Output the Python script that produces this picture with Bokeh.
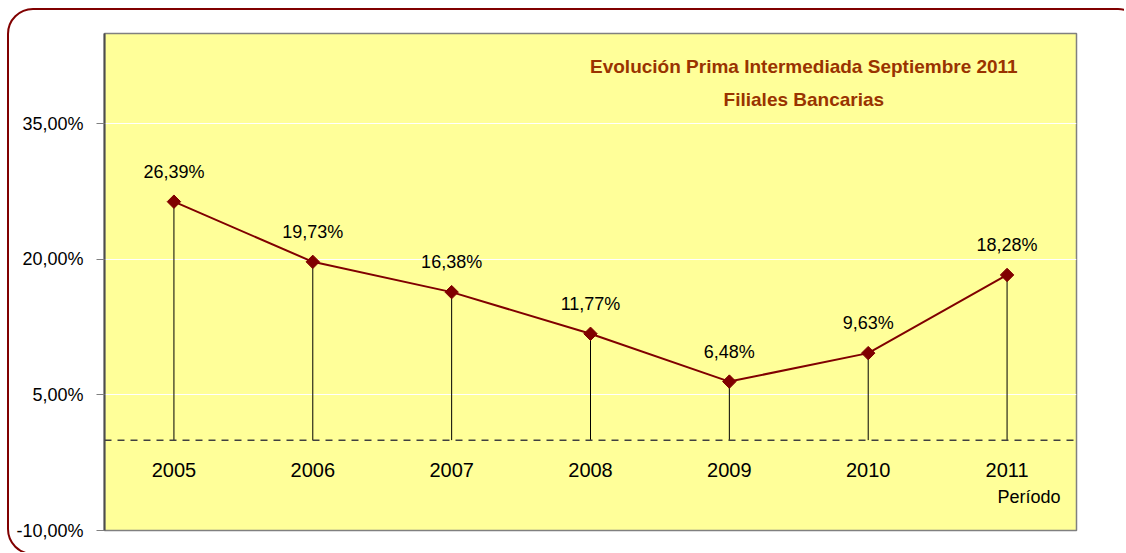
from bokeh.plotting import figure
from bokeh.models import FactorRange, Range1d, FixedTicker, Span, ColumnDataSource, InlineStyleSheet
from bokeh.embed import file_html
from bokeh.resources import INLINE
from bokeh.core.properties import value

years = ["2005", "2006", "2007", "2008", "2009", "2010", "2011"]
prima = [26.39, 19.73, 16.38, 11.77, 6.48, 9.63, 18.28]
y_ticks = [-10, 5, 20, 35]
y_tick_labels = ["-10,00%", "5,00%", "20,00%", "35,00%"]
title_lines = ["Evolución Prima Intermediada Septiembre 2011", "Filiales Bancarias"]
x_title = "Período"

value_labels = [f"{v:.2f}".replace(".", ",") + "%" for v in prima]

FONT = "Liberation Sans"
DARKRED = "#800000"
TITLE_COLOR = "#993300"

src = ColumnDataSource(dict(x=years, y=prima, zero=[0] * len(years), lab=value_labels))

p = figure(
    x_range=FactorRange(factors=years, range_padding=0),
    y_range=Range1d(-10, 45),
    frame_width=972, frame_height=497,
    min_border_left=104, min_border_right=48, min_border_top=33, min_border_bottom=22,
    output_backend="svg", toolbar_location=None,
    background_fill_color="#FFFF99", border_fill_color="white",
    outline_line_color="#808080", outline_line_width=1.5,
)

# outer rounded border (drawn over the canvas by the page's CSS)
p.stylesheets = [InlineStyleSheet(css="""
:host { position: relative; overflow: hidden; }
:host::after {
  content: ""; position: absolute; left: 7px; top: 8px;
  right: -20px; bottom: -3px; width: auto; height: auto;
  max-width: none; max-height: none; box-sizing: border-box;
  border: 2.5px solid #800000; border-radius: 26px;
  pointer-events: none; z-index: 10;
}
""")]

# axes
p.xaxis.visible = False
p.xgrid.visible = False
yax = p.yaxis[0]
yax.ticker = FixedTicker(ticks=y_ticks)
yax.major_label_overrides = {t: l for t, l in zip(y_ticks, y_tick_labels)}
yax.major_label_text_font = FONT
yax.major_label_text_font_size = "18px"
yax.major_label_text_color = "black"
yax.major_label_standoff = 13
yax.axis_line_color = "#4d4d4d"
yax.axis_line_width = 2
yax.major_tick_line_color = "#808080"
yax.major_tick_out = 8
yax.major_tick_in = 0
yax.minor_tick_line_color = None
p.ygrid.grid_line_color = "white"
p.ygrid.grid_line_width = 1

# zero dashed line
p.add_layout(Span(location=0, dimension="width", line_color="#404040",
                  line_width=1.5, line_dash="7 6"))

# drop lines
p.segment(x0="x", y0="zero", x1="x", y1="y", source=src, line_color="black", line_width=1)

# series line and markers
p.line(x="x", y="y", source=src, line_color=DARKRED, line_width=2)
p.scatter(x="x", y="y", source=src, marker="square", angle=0.785398, size=9.5,
          fill_color=DARKRED, line_color=DARKRED)

# value labels
p.text(x="x", y="y", text="lab", source=src, y_offset=-30,
       text_align="center", text_baseline="middle",
       text_font=value(FONT), text_font_size="18px", text_color="black")

# category labels at zero line
p.text(x="x", y="zero", text="x", source=src, y_offset=30,
       text_align="center", text_baseline="middle",
       text_font=value(FONT), text_font_size="20px", text_color="black")

# axis title
p.text(x=[years[-1]], y=[0], text=[x_title], x_offset=22, y_offset=57,
       text_align="center", text_baseline="middle",
       text_font=value(FONT), text_font_size="18px", text_color="black")

# chart title
p.text(x=[years[4], years[4]], y=[45, 45], text=title_lines,
       x_offset=74.5, y_offset=[33, 66],
       text_align="center", text_baseline="middle",
       text_font=value(FONT), text_font_size="19px", text_font_style="bold",
       text_color=TITLE_COLOR)

open("out.html", "w").write(file_html(p, INLINE))
